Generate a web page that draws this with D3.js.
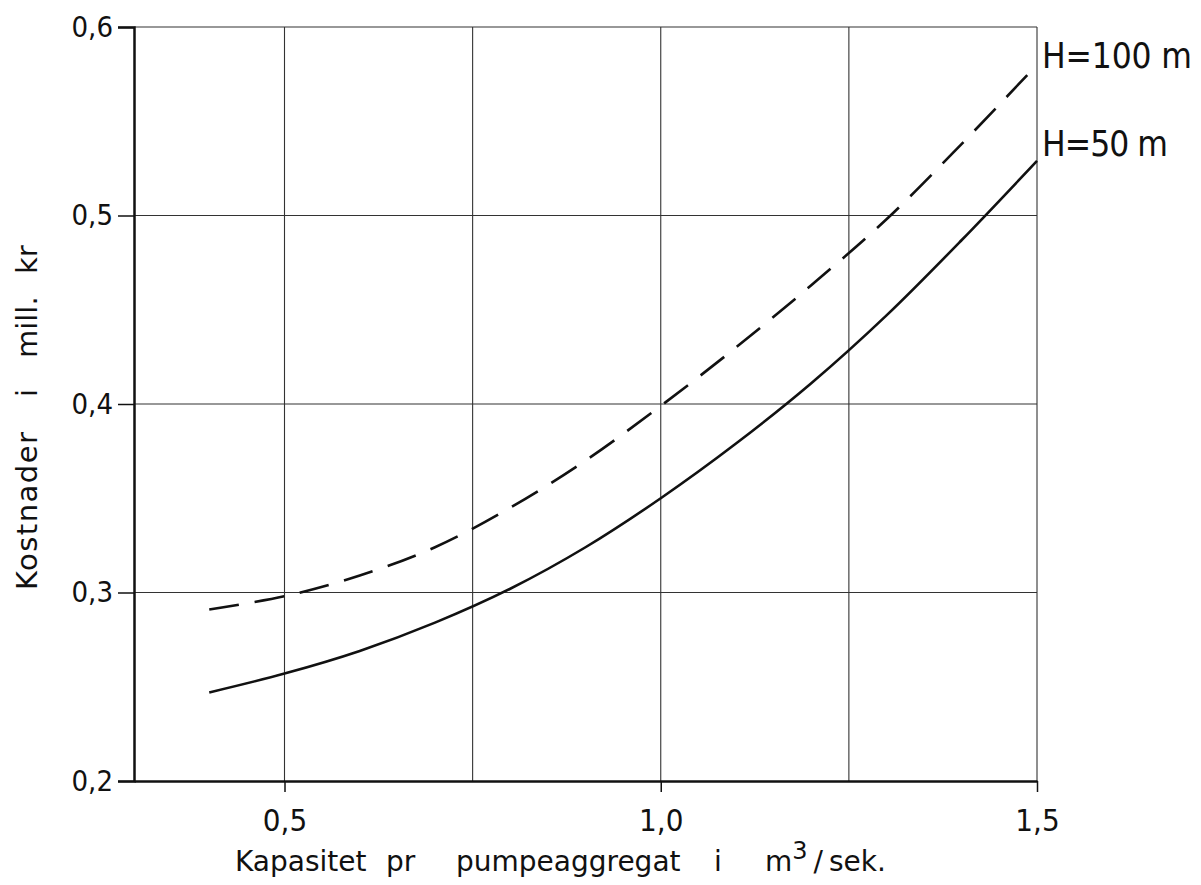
<!DOCTYPE html>
<html>
<head>
<meta charset="utf-8">
<script src="https://cdn.jsdelivr.net/npm/d3@7"></script>
<style>
  body { margin: 0; background: #fff; }
  svg { display: block; }
  text { fill: #111; }
</style>
</head>
<body>
<div id="chart"></div>
<script>
// capacity per pump unit (m3/s) and cost (mill. kr)
var capH50 = [0.4, 0.5, 0.6, 0.7, 0.8, 0.9, 1.0, 1.1, 1.2, 1.3, 1.4, 1.5];
var costH50 = [0.247, 0.257, 0.269, 0.284, 0.302, 0.324, 0.350, 0.379, 0.411, 0.447, 0.487, 0.529];

var capH100 = [0.4, 0.5, 0.6, 0.7, 0.8, 0.9, 1.0, 1.1, 1.2, 1.3, 1.4, 1.5];
var costH100 = [0.291, 0.298, 0.309, 0.324, 0.345, 0.370, 0.399, 0.430, 0.463, 0.498, 0.538, 0.580];

var xTicks = [0.5, 1.0, 1.5];
var xGrid = [0.5, 0.75, 1.0, 1.25, 1.5];
var yTicks = [0.2, 0.3, 0.4, 0.5, 0.6];
var seriesLabels = ["H=50 m", "H=100 m"];

var width = 1201, height = 885;
var margin = {top: 27, right: 164, bottom: 104, left: 134};

var fmt = function(d) { return d3.format(".1f")(d).replace(".", ","); };

var svg = d3.select("#chart").append("svg")
  .attr("width", width)
  .attr("height", height);

var xScale = d3.scaleLinear()
  .domain([0.3, 1.5])
  .range([margin.left, width - margin.right]);

var yScale = d3.scaleLinear()
  .domain([0.2, 0.6])
  .range([height - margin.bottom, margin.top]);

// grid
var grid = svg.append("g").attr("class", "grid");

grid.selectAll(".hgrid")
  .data(yTicks.slice(1))
  .enter().append("line")
  .attr("x1", xScale(0.3))
  .attr("x2", xScale(1.5))
  .attr("y1", function(d) { return yScale(d); })
  .attr("y2", function(d) { return yScale(d); })
  .attr("stroke", "#333")
  .attr("stroke-width", 1.1);

grid.selectAll(".vgrid")
  .data(xGrid)
  .enter().append("line")
  .attr("x1", function(d) { return xScale(d); })
  .attr("x2", function(d) { return xScale(d); })
  .attr("y1", yScale(0.2))
  .attr("y2", yScale(0.6))
  .attr("stroke", "#333")
  .attr("stroke-width", 1.1);

// y axis
var yAxis = d3.axisLeft(yScale)
  .tickValues(yTicks)
  .tickFormat(fmt)
  .tickSize(16)
  .tickPadding(5);

var gy = svg.append("g")
  .attr("transform", "translate(" + margin.left + ",0)")
  .call(yAxis);

gy.select(".domain").attr("stroke", "#111").attr("stroke-width", 2.5);
gy.selectAll(".tick line").attr("stroke", "#111").attr("stroke-width", 1.5);
gy.selectAll(".tick text")
  .style("font-family", "'DejaVu Sans Condensed'")
  .style("font-size", "29px")
  .attr("fill", "#111");

// x axis
var xAxis = d3.axisBottom(xScale)
  .tickValues(xTicks)
  .tickFormat(fmt)
  .tickSize(11)
  .tickSizeOuter(0)
  .tickPadding(17);

var gx = svg.append("g")
  .attr("transform", "translate(0," + (height - margin.bottom) + ")")
  .call(xAxis);

gx.select(".domain").attr("stroke", "#111").attr("stroke-width", 2.5);
gx.selectAll(".tick line").attr("stroke", "#111").attr("stroke-width", 1.5);
gx.selectAll(".tick text")
  .style("font-family", "'DejaVu Sans Condensed'")
  .style("font-size", "31px")
  .attr("fill", "#111");

// curves
var line = d3.line()
  .x(function(d) { return xScale(d[0]); })
  .y(function(d) { return yScale(d[1]); })
  .curve(d3.curveCatmullRom);

var h50 = d3.zip(capH50, costH50);
var h100 = d3.zip(capH100, costH100);

svg.append("path")
  .datum(h50)
  .attr("d", line)
  .attr("fill", "none")
  .attr("stroke", "#111")
  .attr("stroke-width", 2.6);

svg.append("path")
  .datum(h100)
  .attr("d", line)
  .attr("fill", "none")
  .attr("stroke", "#111")
  .attr("stroke-width", 2.6)
  .attr("stroke-dasharray", "30,16");

// curve labels
svg.append("text")
  .attr("x", xScale(1.5) + 5)
  .attr("y", yScale(costH100[costH100.length - 1]) + 3)
  .style("font-family", "'DejaVu Sans Condensed'")
  .style("font-size", "35px")
  .attr("textLength", 150)
  .text(seriesLabels[1]);

svg.append("text")
  .attr("x", xScale(1.5) + 5)
  .attr("y", yScale(costH50[costH50.length - 1]) - 5)
  .style("font-family", "'DejaVu Sans Condensed'")
  .style("font-size", "35px")
  .attr("textLength", 126)
  .text(seriesLabels[0]);

// axis titles (words spaced out like the lettering on the original)
var yt = svg.append("text")
  .attr("transform", "translate(37,590) rotate(-90)")
  .style("font-family", "'DejaVu Sans'")
  .style("font-size", "29px");

yt.append("tspan").attr("x", 0).attr("textLength", 158).text("Kostnader");
yt.append("tspan").attr("x", 193).text("i");
yt.append("tspan").attr("x", 232).text("mill.");
yt.append("tspan").attr("x", 316).text("kr");

var xt = svg.append("text")
  .attr("y", 871)
  .style("font-family", "'DejaVu Sans'")
  .style("font-size", "28px");

xt.append("tspan").attr("x", 235).text("Kapasitet");
xt.append("tspan").attr("x", 386).text("pr");
xt.append("tspan").attr("x", 456).text("pumpeaggregat");
xt.append("tspan").attr("x", 714).text("i");
xt.append("tspan").attr("x", 765).text("m");
xt.append("tspan").attr("dy", -12).style("font-size", "24px").text("3");
xt.append("tspan").attr("dy", 12).attr("dx", 6).text("/");
xt.append("tspan").attr("dx", 6).text("sek.");
</script>
</body>
</html>
